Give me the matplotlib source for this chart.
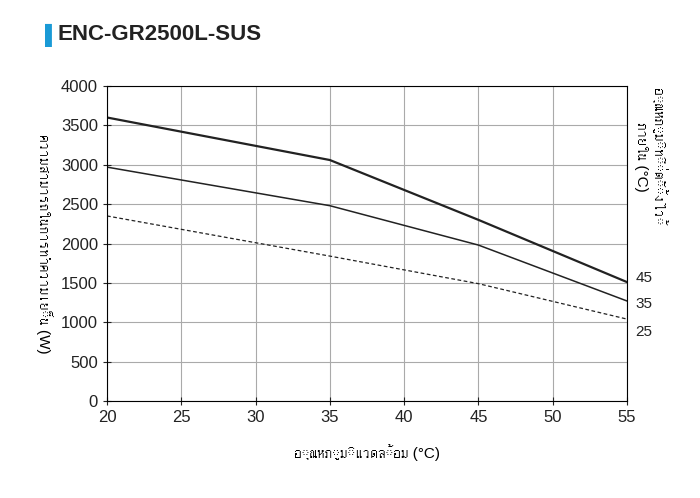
import matplotlib.pyplot as plt
from matplotlib import font_manager
from matplotlib.ft2font import FT2Font

# find any installed font that has Thai glyphs
thai_fam = None
for path in font_manager.findSystemFonts():
    try:
        f = FT2Font(path)
        if 0x0E01 in f.get_charmap() and 0x0E2D in f.get_charmap():
            thai_fam = font_manager.FontProperties(fname=path).get_name()
            break
    except Exception:
        pass
fams = ['Liberation Sans', 'DejaVu Sans']
if thai_fam:
    fams.append(thai_fam)
plt.rcParams['font.family'] = fams

outdoor = [20, 35, 45, 55]
cap_45 = [3600, 3060, 2300, 1510]
cap_35 = [2970, 2480, 1980, 1270]
cap_25 = [2350, 1840, 1490, 1040]
set_labels = ['45', '35', '25']

fig = plt.figure(figsize=(7, 4.98), dpi=100)
ax = fig.add_axes([107/700, 1-401/498, 520/700, 315/498])
ax.plot(outdoor, cap_45, color='#222222', lw=1.6)
ax.plot(outdoor, cap_35, color='#222222', lw=1.1)
ax.plot(outdoor, cap_25, color='#222222', lw=0.9, ls=(0, (3, 2)))
ax.set_xlim(20, 55)
ax.set_ylim(0, 4000)
ax.set_xticks(range(20, 56, 5))
ax.set_yticks(range(0, 4001, 500))
ax.grid(color='#aaaaaa', lw=0.8)
ax.tick_params(labelsize=12, colors='#222222', direction='inout', length=6)
offsets = {'45': 3, '35': -2, '25': -9}
for v, lab in zip([cap_45[-1], cap_35[-1], cap_25[-1]], set_labels):
    ax.annotate(lab, (55, v), xytext=(6, offsets[lab]), textcoords='offset points',
                va='center', ha='left', fontsize=11, color='#222222', annotation_clip=False)
ax.set_xlabel('อุณหภูมิแวดล้อม (°C)', fontsize=11, labelpad=14)
ax.set_ylabel('ความสามารถในการทำความเย็น (W)', fontsize=11, rotation=270, labelpad=18)
fig.text(650/700, 1-88/498, 'อุณหภูมิที่ตั้งไว้\nภายใน (°C)', rotation=270, va='top', ha='center',
         fontsize=11, linespacing=1.1)
fig.text(45/700, 1-35/498, '▌', fontsize=14, color='#1a9ad6', va='center')
fig.text(58/700, 1-35/498, 'ENC-GR2500L-SUS', fontsize=16, fontweight='bold', color='#222222', va='center')
fig.savefig('out.png', dpi=100)
